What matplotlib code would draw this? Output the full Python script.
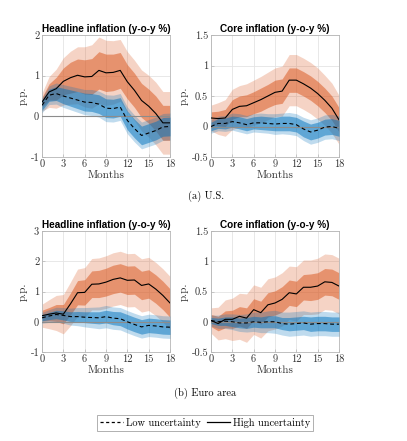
import matplotlib
matplotlib.use('Agg')
import matplotlib.pyplot as plt
import numpy as np
from matplotlib.lines import Line2D

plt.rcParams['axes.unicode_minus'] = False

months = np.arange(19)
xticks = [0, 3, 6, 9, 12, 15, 18]

# ---------------- U.S. headline ----------------
us_head_high = [0.35, 0.60, 0.68, 0.86, 0.95, 1.01, 0.97, 0.98, 1.13, 1.07, 1.08, 1.13,
                0.85, 0.64, 0.39, 0.25, 0.07, -0.16, -0.16]
us_head_high_in = [0.12, 0.20, 0.28, 0.33, 0.38, 0.40, 0.42, 0.44, 0.46, 0.46, 0.45, 0.44,
                   0.42, 0.42, 0.42, 0.42, 0.43, 0.43, 0.43]
us_head_high_out = [0.22, 0.38, 0.48, 0.58, 0.65, 0.70, 0.74, 0.78, 0.82, 0.80, 0.78, 0.76,
                    0.74, 0.74, 0.75, 0.76, 0.77, 0.77, 0.77]
us_head_low = [0.27, 0.52, 0.56, 0.50, 0.45, 0.40, 0.35, 0.34, 0.30, 0.20, 0.19, 0.23,
               -0.10, -0.30, -0.47, -0.41, -0.35, -0.26, -0.25]
us_head_low_in = [0.12, 0.15, 0.17, 0.19, 0.20, 0.21, 0.22, 0.22, 0.23, 0.23, 0.23, 0.23,
                  0.23, 0.23, 0.23, 0.23, 0.23, 0.23, 0.23]
us_head_low_out = [0.18, 0.23, 0.26, 0.28, 0.29, 0.30, 0.31, 0.32, 0.32, 0.33, 0.33, 0.33,
                   0.33, 0.33, 0.33, 0.33, 0.33, 0.33, 0.33]

# ---------------- U.S. core ----------------
us_core_high = [0.14, 0.13, 0.14, 0.28, 0.33, 0.34, 0.39, 0.44, 0.50, 0.56, 0.58, 0.76,
                0.76, 0.70, 0.63, 0.54, 0.43, 0.30, 0.11]
us_core_high_in = [0.10, 0.12, 0.14, 0.16, 0.17, 0.18, 0.18, 0.19, 0.19, 0.20, 0.20, 0.20,
                   0.20, 0.20, 0.20, 0.20, 0.20, 0.20, 0.20]
us_core_high_out = [0.21, 0.26, 0.30, 0.33, 0.34, 0.36, 0.37, 0.38, 0.39, 0.40, 0.41, 0.42,
                    0.42, 0.42, 0.42, 0.42, 0.41, 0.41, 0.40]
us_core_low = [0.00, 0.05, 0.05, 0.08, 0.06, 0.03, 0.06, 0.06, 0.05, 0.04, 0.05, 0.05,
               0.03, -0.04, -0.09, -0.06, -0.01, 0.00, -0.03]
us_core_low_in = [0.07, 0.08, 0.09, 0.09, 0.10, 0.10, 0.10, 0.11, 0.11, 0.11, 0.12, 0.12,
                  0.12, 0.13, 0.13, 0.13, 0.13, 0.13, 0.13]
us_core_low_out = [0.11, 0.12, 0.13, 0.14, 0.15, 0.15, 0.15, 0.16, 0.16, 0.17, 0.17, 0.18,
                   0.18, 0.19, 0.20, 0.20, 0.20, 0.20, 0.20]

# ---------------- Euro area headline ----------------
ea_head_high = [0.20, 0.25, 0.29, 0.25, 0.59, 0.96, 0.97, 1.24, 1.25, 1.31, 1.40, 1.45,
                1.37, 1.38, 1.20, 1.25, 1.08, 0.87, 0.62]
ea_head_high_in = [0.18, 0.22, 0.28, 0.32, 0.36, 0.40, 0.42, 0.44, 0.45, 0.46, 0.47, 0.47,
                   0.47, 0.47, 0.47, 0.47, 0.47, 0.47, 0.47]
ea_head_high_out = [0.38, 0.48, 0.58, 0.65, 0.72, 0.78, 0.82, 0.85, 0.86, 0.87, 0.88, 0.88,
                    0.88, 0.88, 0.88, 0.88, 0.88, 0.88, 0.88]
ea_head_low = [0.13, 0.19, 0.24, 0.21, 0.17, 0.17, 0.15, 0.14, 0.13, 0.17, 0.12, 0.10,
               0.00, -0.09, -0.17, -0.12, -0.14, -0.17, -0.18]
ea_head_low_in = [0.10, 0.12, 0.14, 0.15, 0.16, 0.17, 0.18, 0.19, 0.20, 0.21, 0.22, 0.23,
                  0.24, 0.24, 0.24, 0.24, 0.24, 0.24, 0.24]
ea_head_low_out = [0.18, 0.21, 0.24, 0.26, 0.28, 0.30, 0.32, 0.34, 0.36, 0.37, 0.37, 0.37,
                   0.37, 0.37, 0.37, 0.37, 0.37, 0.37, 0.37]

# ---------------- Euro area core ----------------
ea_core_high = [0.02, -0.03, 0.04, 0.04, 0.09, 0.06, 0.20, 0.15, 0.28, 0.31, 0.37, 0.48,
                0.46, 0.57, 0.57, 0.59, 0.66, 0.65, 0.59]
ea_core_high_in = [0.10, 0.12, 0.14, 0.15, 0.16, 0.17, 0.18, 0.19, 0.20, 0.20, 0.21, 0.21,
                   0.21, 0.21, 0.22, 0.22, 0.22, 0.22, 0.22]
ea_core_high_out = [0.21, 0.27, 0.32, 0.35, 0.38, 0.40, 0.41, 0.42, 0.43, 0.43, 0.44, 0.44,
                    0.45, 0.45, 0.45, 0.46, 0.46, 0.46, 0.46]
ea_core_low = [0.02, 0.00, 0.01, 0.00, -0.02, -0.02, 0.00, -0.01, 0.00, 0.00, -0.03, -0.04,
               -0.03, -0.02, -0.04, -0.03, -0.03, -0.04, -0.04]
ea_core_low_in = [0.05, 0.06, 0.07, 0.08, 0.08, 0.09, 0.09, 0.09, 0.10, 0.10, 0.10, 0.11,
                  0.11, 0.11, 0.12, 0.12, 0.12, 0.12, 0.12]
ea_core_low_out = [0.09, 0.11, 0.12, 0.13, 0.14, 0.15, 0.16, 0.17, 0.18, 0.19, 0.19, 0.20,
                   0.20, 0.20, 0.20, 0.20, 0.20, 0.20, 0.20]

titles = ['Headline inflation (y-o-y %)', 'Core inflation (y-o-y %)']
head_us_yticks = [-1, 0, 1, 2]
head_ea_yticks = [-1, 0, 1, 2, 3]
core_yticks = [-0.5, 0, 0.5, 1, 1.5]
core_yticklabels = ['-0.5', '0', '0.5', '1', '1.5']
captions = ['(a) U.S.', '(b) Euro area']
legend_labels = ['Low uncertainty', 'High uncertainty']

ORANGE = (217/255, 83/255, 25/255)
BLUE = (0/255, 114/255, 189/255)
SERIF = 'cmr10'

W, H = 407, 441
fig = plt.figure(figsize=(W/100, H/100), dpi=100)


def panel(rect, high, hin, hout, low, lin, lout, yticks, yticklabels, title):
    ax = fig.add_axes(rect)
    hi = np.array(high); lo = np.array(low)
    ax.fill_between(months, hi - np.array(hout), hi + np.array(hout), color=ORANGE,
                    alpha=0.25, lw=0, zorder=1)
    ax.fill_between(months, hi - np.array(hin), hi + np.array(hin), color=ORANGE,
                    alpha=0.5, lw=0, zorder=2)
    ax.fill_between(months, lo - np.array(lout), lo + np.array(lout), color=BLUE,
                    alpha=0.25, lw=0, zorder=3)
    ax.fill_between(months, lo - np.array(lin), lo + np.array(lin), color=BLUE,
                    alpha=0.5, lw=0, zorder=4)
    ax.axhline(0, color='#8c8c8c', lw=0.8, zorder=5)
    ax.plot(months, hi, color='black', lw=0.8, zorder=6)
    ax.plot(months, lo, color='black', lw=0.8, ls=(0, (3.5, 2.5)), zorder=6)
    ax.set_xlim(0, 18)
    ax.set_ylim(yticks[0], yticks[-1])
    ax.set_xticks(xticks)
    ax.set_xticklabels([str(t) for t in xticks], fontfamily=SERIF, fontsize=7.5)
    ax.set_yticks(yticks)
    ax.set_yticklabels(yticklabels, fontfamily=SERIF, fontsize=7.5)
    ax.grid(True, color='#e4e4e4', lw=0.6, zorder=0)
    ax.set_axisbelow(True)
    for s in ax.spines.values():
        s.set_color('#b5b5b5')
        s.set_linewidth(0.6)
    ax.tick_params(direction='in', length=2, width=0.5, color='#b5b5b5',
                   labelcolor='#333333', pad=2)
    ax.set_xlabel('Months', fontfamily=SERIF, fontsize=8, color='#333333', labelpad=1)
    ax.set_ylabel('p.p.', fontfamily=SERIF, fontsize=8, color='#333333', labelpad=2)
    ax.set_title(title, fontfamily='Liberation Sans', fontweight='bold', fontsize=7.2,
                 pad=2)
    return ax


def rect(x0, y0, x1, y1):
    return [x0 / W, 1 - y1 / H, (x1 - x0) / W, (y1 - y0) / H]


panel(rect(42, 35, 170, 157), us_head_high, us_head_high_in, us_head_high_out,
      us_head_low, us_head_low_in, us_head_low_out, head_us_yticks,
      [str(t) for t in head_us_yticks], titles[0])
panel(rect(211, 35, 339, 157), us_core_high, us_core_high_in, us_core_high_out,
      us_core_low, us_core_low_in, us_core_low_out, core_yticks, core_yticklabels, titles[1])
panel(rect(42, 231, 170, 352), ea_head_high, ea_head_high_in, ea_head_high_out,
      ea_head_low, ea_head_low_in, ea_head_low_out, head_ea_yticks,
      [str(t) for t in head_ea_yticks], titles[0])
panel(rect(211, 231, 339, 352), ea_core_high, ea_core_high_in, ea_core_high_out,
      ea_core_low, ea_core_low_in, ea_core_low_out, core_yticks, core_yticklabels, titles[1])

fig.text(206 / W, 1 - 196 / H, captions[0], ha='center', va='center', fontfamily=SERIF,
         fontsize=7.5)
fig.text(205 / W, 1 - 393 / H, captions[1], ha='center', va='center', fontfamily=SERIF,
         fontsize=7.5)

handles = [Line2D([], [], color='black', lw=0.9, ls=(0, (2.5, 2))),
           Line2D([], [], color='black', lw=0.9)]
leg = fig.legend(handles, legend_labels, loc='center', bbox_to_anchor=(205 / W, 1 - 423 / H),
                 ncol=2, frameon=True, fancybox=False, handlelength=2.2, handletextpad=0.3,
                 columnspacing=0.6, borderpad=0.25, prop={'family': SERIF, 'size': 7.5})
leg.get_frame().set_edgecolor('#8c8c8c')
leg.get_frame().set_linewidth(0.6)

fig.savefig('out.png', dpi=100)
